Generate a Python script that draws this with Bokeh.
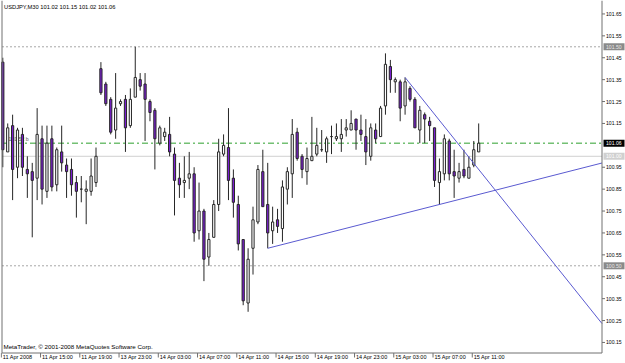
import numpy as np
from bokeh.plotting import figure
from bokeh.models import Range1d, ColumnDataSource
from bokeh.core.properties import value
from bokeh.embed import file_html
from bokeh.resources import INLINE

# ---------------- data ----------------
symbol = "USDJPY,M30"
opens = [101.43, 101.02, 101.14, 100.95, 101.10, 100.94, 100.93, 100.90, 101.08, 100.84,
         101.08, 100.87, 101.02, 100.96, 100.94, 100.88, 100.85, 100.84, 100.84, 100.88,
         101.40, 101.33, 101.26, 101.12, 101.24, 101.26, 101.14, 101.27, 101.35, 101.33,
         101.25, 101.21, 101.06, 101.09, 101.10, 101.01, 100.90, 100.88, 100.90, 100.92,
         100.66, 100.75, 100.54, 100.63, 100.78, 101.01, 101.04, 100.90, 100.78, 100.62,
         100.33, 100.58, 100.70, 100.93, 100.78, 100.66, 100.71, 100.67, 100.85, 100.92,
         101.11, 101.00, 100.93, 100.98, 101.01, 101.03, 101.02, 101.09, 101.08, 101.08,
         101.12, 101.12, 101.17, 101.12, 101.09, 101.00, 101.12, 101.09, 101.23, 101.41,
         101.34, 101.34, 101.23, 101.31, 101.26, 101.12, 101.19, 101.16, 101.13, 100.88,
         100.92, 101.07, 100.93, 100.90, 100.94, 100.90, 100.96, 101.02]
highs = [101.45, 101.15, 101.19, 101.13, 101.13, 101.00, 100.97, 101.22, 101.14, 101.14,
         101.14, 101.04, 101.14, 100.99, 100.99, 100.91, 100.91, 100.89, 100.99, 101.04,
         101.43, 101.34, 101.27, 101.38, 101.26, 101.28, 101.31, 101.50, 101.38, 101.38,
         101.26, 101.22, 101.14, 101.13, 101.18, 101.04, 100.97, 101.00, 101.02, 100.95,
         100.88, 100.76, 100.65, 100.80, 101.08, 101.10, 101.22, 100.94, 100.82, 100.62,
         100.58, 100.77, 100.96, 101.03, 100.97, 100.77, 100.76, 100.89, 100.95, 101.17,
         101.13, 101.01, 101.04, 101.18, 101.13, 101.12, 101.09, 101.14, 101.15, 101.17,
         101.17, 101.21, 101.17, 101.19, 101.17, 101.15, 101.15, 101.23, 101.47, 101.44,
         101.36, 101.35, 101.36, 101.32, 101.27, 101.23, 101.20, 101.18, 101.13, 100.99,
         101.10, 101.08, 101.03, 100.97, 101.03, 101.00, 101.07, 101.15]
lows = [100.95, 101.02, 100.80, 100.90, 100.91, 100.81, 100.63, 100.80, 100.78, 100.81,
        100.84, 100.84, 100.93, 100.81, 100.82, 100.72, 100.79, 100.69, 100.82, 100.86,
        101.28, 101.23, 101.10, 101.08, 101.23, 101.02, 101.13, 101.27, 101.30, 101.07,
        101.16, 100.94, 101.05, 101.07, 101.00, 100.73, 100.81, 100.81, 100.85, 100.61,
        100.62, 100.43, 100.50, 100.63, 100.75, 101.00, 100.80, 100.72, 100.57, 100.32,
        100.29, 100.46, 100.69, 100.77, 100.58, 100.60, 100.65, 100.61, 100.78, 100.81,
        100.98, 100.90, 100.87, 100.98, 101.00, 101.02, 100.97, 101.01, 101.07, 101.02,
        101.09, 101.12, 101.03, 101.07, 100.96, 100.98, 101.06, 101.09, 101.19, 101.29,
        101.29, 101.16, 101.19, 101.25, 101.13, 101.06, 101.06, 101.07, 100.86, 100.78,
        100.89, 100.89, 100.81, 100.88, 100.90, 100.90, 100.95, 101.02]
closes = [101.03, 101.13, 100.94, 101.12, 100.95, 100.92, 100.89, 101.10, 100.85, 101.06,
          100.86, 101.03, 100.97, 100.93, 100.87, 100.84, 100.85, 100.85, 100.91, 101.00,
          101.29, 101.24, 101.11, 101.22, 101.25, 101.13, 101.26, 101.36, 101.32, 101.26,
          101.20, 101.08, 101.13, 101.11, 101.02, 100.89, 100.87, 100.89, 100.92, 100.65,
          100.75, 100.53, 100.62, 100.78, 101.02, 101.05, 100.89, 100.79, 100.60, 100.34,
          100.53, 100.71, 100.94, 100.77, 100.65, 100.70, 100.68, 100.86, 100.93, 101.10,
          100.99, 100.94, 100.99, 101.00, 101.05, 101.03, 101.08, 101.09, 101.09, 101.10,
          101.13, 101.15, 101.12, 101.10, 101.02, 101.13, 101.08, 101.22, 101.42, 101.35,
          101.35, 101.22, 101.34, 101.26, 101.13, 101.21, 101.17, 101.14, 100.89, 100.93,
          101.08, 100.92, 100.91, 100.93, 100.91, 100.95, 101.03, 101.06]

time_tick_bars = [0, 8, 16, 24, 32, 40, 48, 56, 64, 72, 80, 88, 96]
time_tick_labels = ["11 Apr 2008", "11 Apr 15:00", "11 Apr 19:00", "13 Apr 23:00",
                    "14 Apr 03:00", "14 Apr 07:00", "14 Apr 11:00", "14 Apr 15:00",
                    "14 Apr 19:00", "14 Apr 23:00", "15 Apr 03:00", "15 Apr 07:00",
                    "15 Apr 11:00"]
price_ticks = [100.15, 100.25, 100.35, 100.45, 100.55, 100.65, 100.75, 100.85, 100.95,
               101.15, 101.25, 101.35, 101.45, 101.55, 101.65]

# horizontal levels
level_dotted = [101.50, 100.50]
level_green = 101.06
level_silver = 101.00

# trend lines (anchor bars / prices)
up_bars, up_prices = [54, 89], [100.58, 100.78]
down_bars, down_prices = [82, 122], [101.36, 100.24]

title_text = "USDJPY,M30  101.02 101.15 101.02 101.06"
copyright_text = "MetaTrader, \u00a9 2001-2008 MetaQuotes Software Corp."
object_text = "101.52 b"

# ---------------- layout (pixel -> data helpers) ----------------
W, H = 625, 363
X0PX = 2.3            # pixel centre of bar 0
PX_PER_BAR = 4.906
PX_PER_YEN = 219.0
Y0P = 101.7114        # price at the top pixel row

def bx(px):
    return (px - X0PX) / PX_PER_BAR

def py(pyx):
    return Y0P - pyx / PX_PER_YEN

CHART_L, CHART_R, CHART_B = 1.5, 601.5, 352.5
XL, XR, YB = bx(CHART_L), bx(CHART_R), py(CHART_B)

FONT = "Liberation Sans"
FRAME = "#707070"
INK = "#262626"
PURPLE = "#7b1fd1"

p = figure(width=W, height=H, x_range=Range1d(bx(0), bx(W)),
           y_range=Range1d(py(H), py(0)), output_backend="svg",
           toolbar_location=None, x_axis_location=None, y_axis_location=None,
           min_border=0)
p.min_border_left = p.min_border_right = p.min_border_top = p.min_border_bottom = 0
p.outline_line_color = None
p.background_fill_color = "white"
p.border_fill_color = "white"
p.xgrid.visible = False
p.ygrid.visible = False

# horizontal levels (behind candles)
for lv in level_dotted:
    p.segment(x0=[XL], y0=[lv], x1=[XR], y1=[lv], line_color="#a8a8a8",
              line_dash="2 2", line_width=1)
p.segment(x0=[XL], y0=[level_silver], x1=[XR], y1=[level_silver],
          line_color="#d0d0d0", line_width=1)
p.segment(x0=[XL], y0=[level_green], x1=[XR], y1=[level_green],
          line_color="#2ca02c", line_dash="6 3 2 3", line_width=1)
p.text(x=[bx(8)], y=[py(138.5)], text=[object_text], text_font=value(FONT),
       text_font_size="5.2px", text_baseline="middle", text_color="#606060")

# candles
n = len(opens)
o = np.array(opens); c = np.array(closes)
src = ColumnDataSource(dict(
    x=np.arange(n), high=highs, low=lows,
    top=np.maximum(o, c), bottom=np.minimum(o, c),
    fill=[("white" if cc >= oo else PURPLE) for oo, cc in zip(opens, closes)],
))
p.segment(x0="x", y0="low", x1="x", y1="high", source=src, line_color=INK, line_width=1)
p.vbar(x="x", width=0.45, top="top", bottom="bottom", source=src,
       fill_color="fill", line_color=INK, line_width=1)

# trend lines, extended to the right edge of the chart
def extend(bars, prices):
    slope = (prices[1] - prices[0]) / (bars[1] - bars[0])
    return [bars[0], XR], [prices[0], prices[0] + slope * (XR - bars[0])]

for bars, prices in [(up_bars, up_prices), (down_bars, down_prices)]:
    xs, ys = extend(bars, prices)
    p.line(xs, ys, line_color="#5a5ad0", line_width=1)

# chart frame: left, bottom, right (price scale)
p.segment(x0=[XL, XL, XR], y0=[py(0), YB, py(0)], x1=[XL, XR, XR], y1=[YB, YB, YB],
          line_color=FRAME, line_width=1)

# price scale ticks and labels
p.segment(x0=[XR] * len(price_ticks), y0=price_ticks,
          x1=[bx(604.5)] * len(price_ticks), y1=price_ticks,
          line_color=FRAME, line_width=1)
p.text(x=[bx(605.5)] * len(price_ticks), y=price_ticks,
       text=[f"{t:.2f}" for t in price_ticks], text_font=value(FONT),
       text_font_size="5.1px", text_baseline="middle", text_color="black")

# price boxes on the scale
box_levels = [level_dotted[0], level_dotted[1], level_green, level_silver]
box_fill = ["#8a8a8a", "#8a8a8a", "black", "#d0d0d0"]
box_text = ["#e8e8e8", "#e8e8e8", "white", "white"]
half = 3.5 / PX_PER_YEN
p.quad(left=[bx(603)] * 4, right=[bx(624)] * 4,
       top=[lv + half for lv in box_levels], bottom=[lv - half for lv in box_levels],
       fill_color=box_fill, line_color=None)
p.text(x=[bx(605.5)] * 4, y=box_levels, text=[f"{lv:.2f}" for lv in box_levels],
       text_font=value(FONT), text_font_size="5.1px", text_baseline="middle",
       text_color=box_text)

# time scale ticks and labels
tb = np.array(time_tick_bars, dtype=float)
p.segment(x0=tb - 1.5 / PX_PER_BAR, y0=[YB] * len(tb), x1=tb - 1.5 / PX_PER_BAR,
          y1=[py(357)] * len(tb), line_color=FRAME, line_width=1)
p.text(x=tb, y=[py(356)] * len(tb), text=time_tick_labels, text_font=value(FONT),
       text_font_size="5.5px", text_baseline="middle", text_color="black")

# header and footer texts
p.text(x=[bx(3.5)], y=[py(6.8)], text=[title_text], text_font=value(FONT),
       text_font_size="5.75px", text_baseline="middle", text_color="black")
p.text(x=[bx(3)], y=[py(346)], text=[copyright_text], text_font=value(FONT),
       text_font_size="6.2px", text_baseline="middle", text_color="black")

open("out.html", "w").write(file_html(p, INLINE))
